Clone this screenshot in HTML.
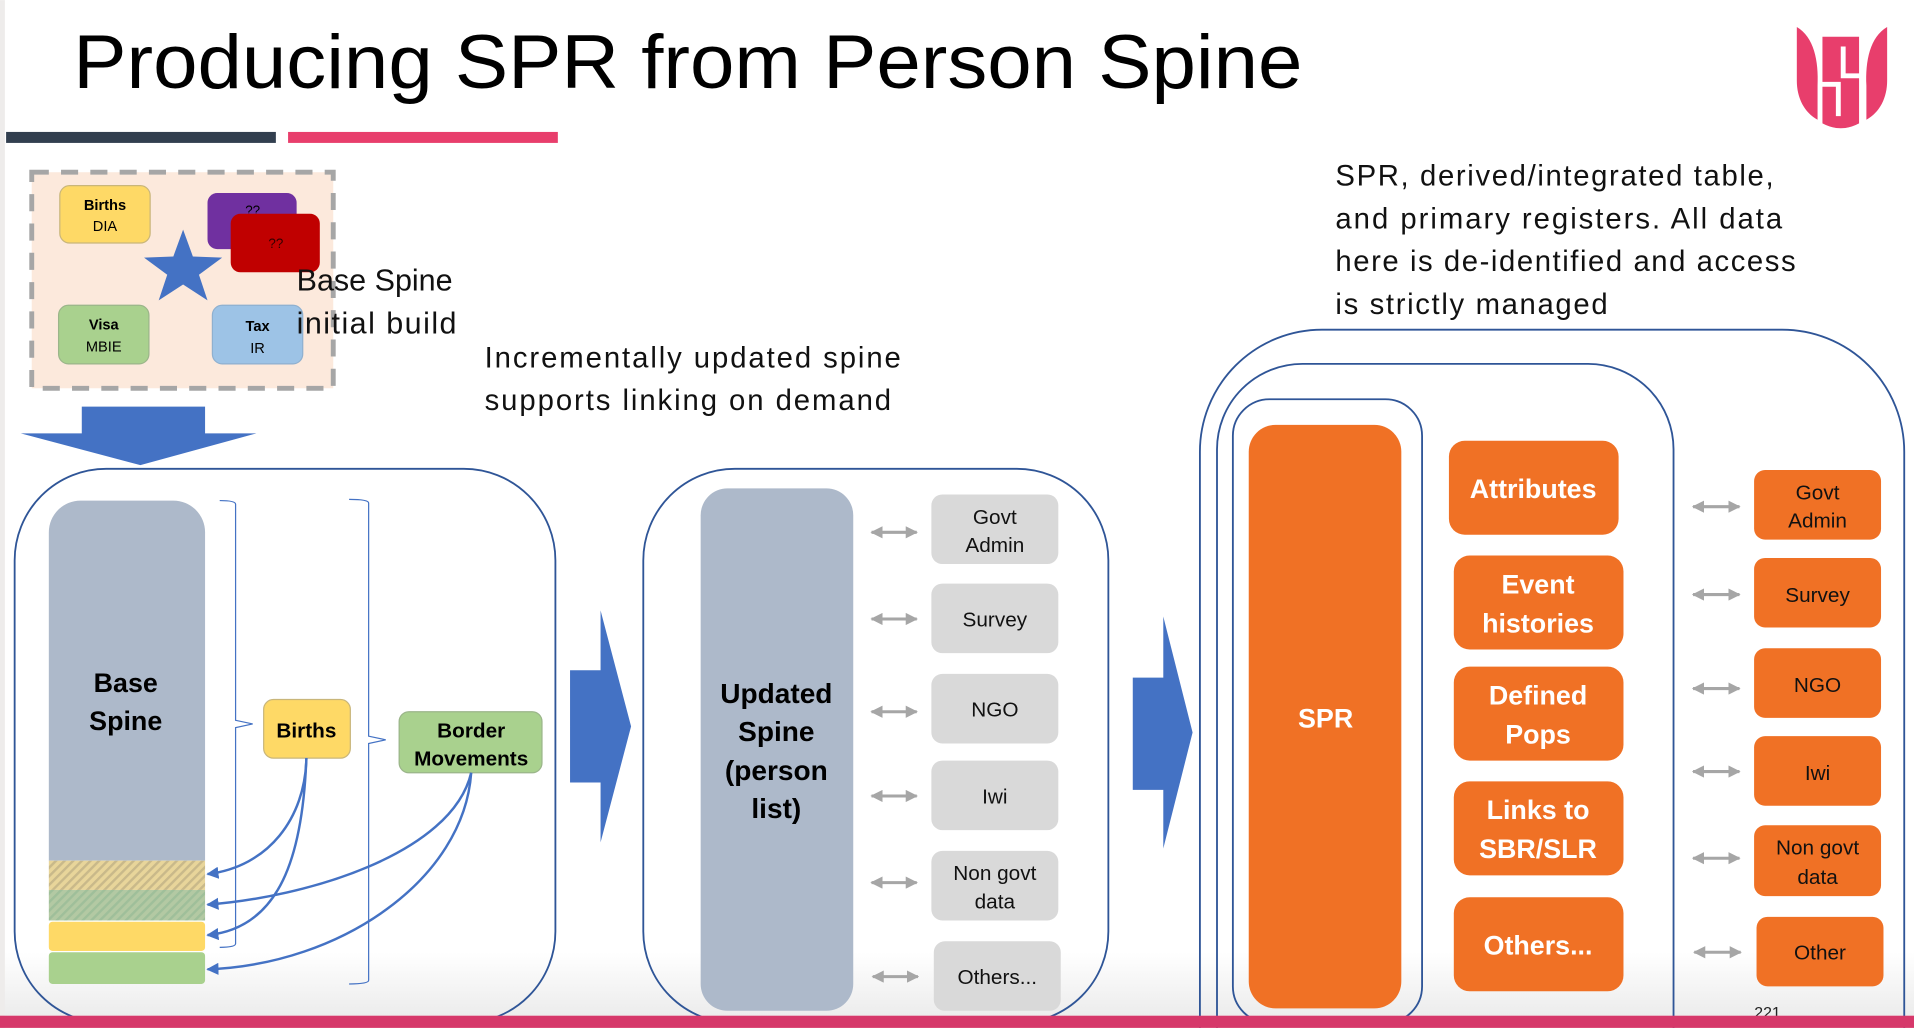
<!DOCTYPE html>
<html><head><meta charset="utf-8"><style>html,body{margin:0;padding:0;background:#fff}svg{display:block}</style></head>
<body>
<svg width="1914" height="1028" viewBox="0 0 1568 842" xmlns="http://www.w3.org/2000/svg" font-family="Liberation Sans, sans-serif">
<defs>
<pattern id="hy" width="5" height="5" patternUnits="userSpaceOnUse" patternTransform="rotate(45)"><rect width="5" height="5" fill="#e8d59a"/><rect width="2" height="5" fill="#c9b98a"/></pattern>
<pattern id="hg" width="5" height="5" patternUnits="userSpaceOnUse" patternTransform="rotate(45)"><rect width="5" height="5" fill="#b3c9a3"/><rect width="2" height="5" fill="#9fbf9a"/></pattern>
<marker id="ah" viewBox="0 0 10 10" refX="9" refY="5" markerWidth="5" markerHeight="5" orient="auto"><path d="M0,0L10,5L0,10z" fill="#4472c4"/></marker>
<marker id="ga" viewBox="0 0 10 10" refX="9" refY="5" markerWidth="4" markerHeight="4" orient="auto-start-reverse"><path d="M0,0L10,5L0,10z" fill="#a6a6a6"/></marker>
<linearGradient id="bg" x1="0" y1="0" x2="0" y2="1"><stop offset="0" stop-color="#fff"/><stop offset="1" stop-color="#ececec"/></linearGradient>
</defs>
<rect x="0" y="0" width="1568" height="842" fill="#fff"/>
<rect x="0" y="780" width="1568" height="52" fill="url(#bg)"/>
<rect x="0" y="0" width="4" height="842" fill="#eeeceb"/>
<text x="60" y="72" font-size="62" textLength="1007" lengthAdjust="spacingAndGlyphs" fill="#000">Producing SPR from Person Spine</text>
<rect x="5" y="108" width="221" height="9" fill="#323f4f"/>
<rect x="236" y="108" width="221" height="9" fill="#e83e6c"/>
<!-- logo -->
<g fill="#e83e6c">
<path d="M1472,22 C1486,30 1490,50 1489,70 L1489,98 C1478,92 1472,80 1472,66 Z"/>
<path d="M1546,22 C1532,30 1528,50 1529,70 L1529,98 C1540,92 1546,80 1546,66 Z"/>
<path d="M1493,30 h30 v30 h-11 v-22 h-4 v26 h15 v37 q-15,8 -30,0 v-30 h11 v24 h4 v-28 h-15 z"/>
</g>
<!-- left top dashed box -->
<rect x="26" y="141" width="247" height="177" fill="#fce9dc" stroke="#a6a6a6" stroke-width="4" stroke-dasharray="14,10"/>
<rect x="49" y="152" width="74" height="47" rx="8" fill="#fed966" stroke="#c9b67a"/>
<text x="86" y="172" font-size="12" font-weight="bold" text-anchor="middle">Births</text>
<text x="86" y="189" font-size="12" text-anchor="middle">DIA</text>
<rect x="170" y="158" width="73" height="46" rx="8" fill="#7030a0"/>
<text x="207" y="176" font-size="11" text-anchor="middle">??</text>
<rect x="189" y="175" width="73" height="48" rx="8" fill="#c00000"/>
<text x="226" y="203" font-size="11" text-anchor="middle" fill="#300">??</text>
<polygon points="150,188 158,210 182,211 163,225 170,246 150,233 130,246 137,225 118,211 142,210" fill="#4472c4"/>
<rect x="48" y="250" width="74" height="48" rx="8" fill="#a9d18e" stroke="#9bb58a"/>
<text x="85" y="270" font-size="12" font-weight="bold" text-anchor="middle">Visa</text>
<text x="85" y="288" font-size="12" text-anchor="middle">MBIE</text>
<rect x="174" y="250" width="74" height="48" rx="8" fill="#9dc3e6" stroke="#8fb0cf"/>
<text x="211" y="271" font-size="12" font-weight="bold" text-anchor="middle">Tax</text>
<text x="211" y="289" font-size="12" text-anchor="middle">IR</text>
<text x="243" y="238" font-size="25" fill="#111">Base Spine</text>
<text x="243" y="273" font-size="25" fill="#111" textLength="131">initial build</text>
<polygon points="67,333 168,333 168,355 210,355 115,381 17,355 67,355" fill="#4472c4"/>
<text x="397" y="301" font-size="24" fill="#111" textLength="341">Incrementally updated spine</text>
<text x="397" y="336" font-size="24" fill="#111" textLength="333">supports linking on demand</text>
<g font-size="24" fill="#111">
<text x="1094" y="152" textLength="359">SPR, derived/integrated table,</text>
<text x="1094" y="187" textLength="366">and primary registers.  All data</text>
<text x="1094" y="222" textLength="377">here is de-identified and access</text>
<text x="1094" y="257" textLength="223">is strictly managed</text>
</g>
<!-- left container -->
<rect x="12" y="384" width="443" height="454" rx="75" fill="none" stroke="#2f5597" stroke-width="1.5"/>
<path d="M40,705 V436 a26,26 0 0 1 26,-26 h76 a26,26 0 0 1 26,26 V705 z" fill="#adb9ca"/>
<rect x="40" y="705" width="128" height="24" fill="url(#hy)"/>
<rect x="40" y="729" width="128" height="25" fill="url(#hg)"/>
<rect x="40" y="755" width="128" height="24" rx="3" fill="#fed966"/>
<rect x="40" y="780" width="128" height="26" rx="3" fill="#a9d18e"/>
<text x="103" y="567" font-size="22" font-weight="bold" text-anchor="middle">Base</text>
<text x="103" y="598" font-size="22" font-weight="bold" text-anchor="middle">Spine</text>
<path d="M180,410 q13,0 13,3 V590 l14,3 l-14,3 V773 q0,3 -13,3" fill="none" stroke="#4472c4" stroke-width="1"/>
<path d="M286,409 q16,0 16,3 V603 l14,3 l-14,3 V803 q0,3 -16,3" fill="none" stroke="#4472c4" stroke-width="1"/>
<rect x="216" y="573" width="71" height="48" rx="8" fill="#fed966" stroke="#c9b67a"/>
<text x="251" y="604" font-size="17" font-weight="bold" text-anchor="middle">Births</text>
<rect x="327" y="583" width="117" height="50" rx="8" fill="#a9d18e" stroke="#9bb58a"/>
<text x="386" y="604" font-size="17" font-weight="bold" text-anchor="middle">Border</text>
<text x="386" y="627" font-size="17" font-weight="bold" text-anchor="middle">Movements</text>
<g fill="none" stroke="#4472c4" stroke-width="2" marker-end="url(#ah)">
<path d="M251,621 C250,670 220,710 170,716"/>
<path d="M251,621 C248,700 230,760 170,766"/>
<path d="M386,633 C370,700 250,735 170,741"/>
<path d="M386,633 C380,720 280,790 170,794"/>
</g>
<!-- arrow 1 -->
<polygon points="467,549 492,549 492,500 517,595 492,690 492,641 467,641" fill="#4472c4"/>
<!-- middle container -->
<rect x="527" y="384" width="381" height="454" rx="75" fill="none" stroke="#2f5597" stroke-width="1.5"/>
<rect x="574" y="400" width="125" height="428" rx="22" fill="#adb9ca"/>
<g font-size="23" font-weight="bold" text-anchor="middle">
<text x="636" y="576">Updated</text><text x="636" y="607">Spine</text><text x="636" y="639">(person</text><text x="636" y="670">list)</text>
</g>
<g fill="#d9d9d9">
<rect x="763" y="405" width="104" height="57" rx="9"/>
<rect x="763" y="478" width="104" height="57" rx="9"/>
<rect x="763" y="552" width="104" height="57" rx="9"/>
<rect x="763" y="623" width="104" height="57" rx="9"/>
<rect x="763" y="697" width="104" height="57" rx="9"/>
<rect x="765" y="771" width="104" height="57" rx="9"/>
</g>
<g font-size="17" text-anchor="middle" fill="#111">
<text x="815" y="429">Govt</text><text x="815" y="452">Admin</text>
<text x="815" y="513">Survey</text>
<text x="815" y="587">NGO</text>
<text x="815" y="658">Iwi</text>
<text x="815" y="721">Non govt</text><text x="815" y="744">data</text>
<text x="817" y="806">Others...</text>
</g>
<g stroke="#a6a6a6" stroke-width="2.5" marker-start="url(#ga)" marker-end="url(#ga)">
<line x1="714" y1="436" x2="751" y2="436"/>
<line x1="714" y1="507" x2="751" y2="507"/>
<line x1="714" y1="583" x2="751" y2="583"/>
<line x1="714" y1="652" x2="751" y2="652"/>
<line x1="714" y1="723" x2="751" y2="723"/>
<line x1="715" y1="800" x2="752" y2="800"/>
</g>
<!-- arrow 2 -->
<polygon points="928,555 953,555 953,505 977,600 953,695 953,647 928,647" fill="#4472c4"/>
<!-- right containers -->
<path d="M983,850 V370 a100,100 0 0 1 100,-100 H1460 a100,100 0 0 1 100,100 V850" fill="none" stroke="#2f5597" stroke-width="1.5"/>
<path d="M997,850 V368 a70,70 0 0 1 70,-70 H1301 a70,70 0 0 1 70,70 V850" fill="none" stroke="#2f5597" stroke-width="1.5"/>
<rect x="1010" y="327" width="155" height="511" rx="30" fill="none" stroke="#2f5597" stroke-width="1.5"/>
<rect x="1023" y="348" width="125" height="478" rx="22" fill="#f07125"/>
<text x="1086" y="596" font-size="22" font-weight="bold" fill="#fff" text-anchor="middle">SPR</text>
<g fill="#f07125">
<rect x="1187" y="361" width="139" height="77" rx="13"/>
<rect x="1191" y="455" width="139" height="77" rx="13"/>
<rect x="1191" y="546" width="139" height="77" rx="13"/>
<rect x="1191" y="640" width="139" height="77" rx="13"/>
<rect x="1191" y="735" width="139" height="77" rx="13"/>
<rect x="1437" y="385" width="104" height="57" rx="9"/>
<rect x="1437" y="457" width="104" height="57" rx="9"/>
<rect x="1437" y="531" width="104" height="57" rx="9"/>
<rect x="1437" y="603" width="104" height="57" rx="9"/>
<rect x="1437" y="676" width="104" height="58" rx="9"/>
<rect x="1439" y="751" width="104" height="57" rx="9"/>
</g>
<g font-size="22" font-weight="bold" fill="#fff" text-anchor="middle">
<text x="1256" y="408">Attributes</text>
<text x="1260" y="486">Event</text><text x="1260" y="518">histories</text>
<text x="1260" y="577">Defined</text><text x="1260" y="609">Pops</text>
<text x="1260" y="671">Links to</text><text x="1260" y="703">SBR/SLR</text>
<text x="1260" y="782">Others...</text>
</g>
<g font-size="17" text-anchor="middle" fill="#111">
<text x="1489" y="409">Govt</text><text x="1489" y="432">Admin</text>
<text x="1489" y="493">Survey</text>
<text x="1489" y="567">NGO</text>
<text x="1489" y="639">Iwi</text>
<text x="1489" y="700">Non govt</text><text x="1489" y="724">data</text>
<text x="1491" y="786">Other</text>
</g>
<g stroke="#a6a6a6" stroke-width="2.5" marker-start="url(#ga)" marker-end="url(#ga)">
<line x1="1387" y1="415" x2="1425" y2="415"/>
<line x1="1387" y1="487" x2="1425" y2="487"/>
<line x1="1387" y1="564" x2="1425" y2="564"/>
<line x1="1387" y1="632" x2="1425" y2="632"/>
<line x1="1387" y1="703" x2="1425" y2="703"/>
<line x1="1388" y1="780" x2="1426" y2="780"/>
</g>
<text x="1448" y="834" font-size="13" text-anchor="middle" fill="#222">221</text>
<rect x="0" y="832" width="1568" height="10" fill="#d6386a"/>
</svg>
</body></html>
